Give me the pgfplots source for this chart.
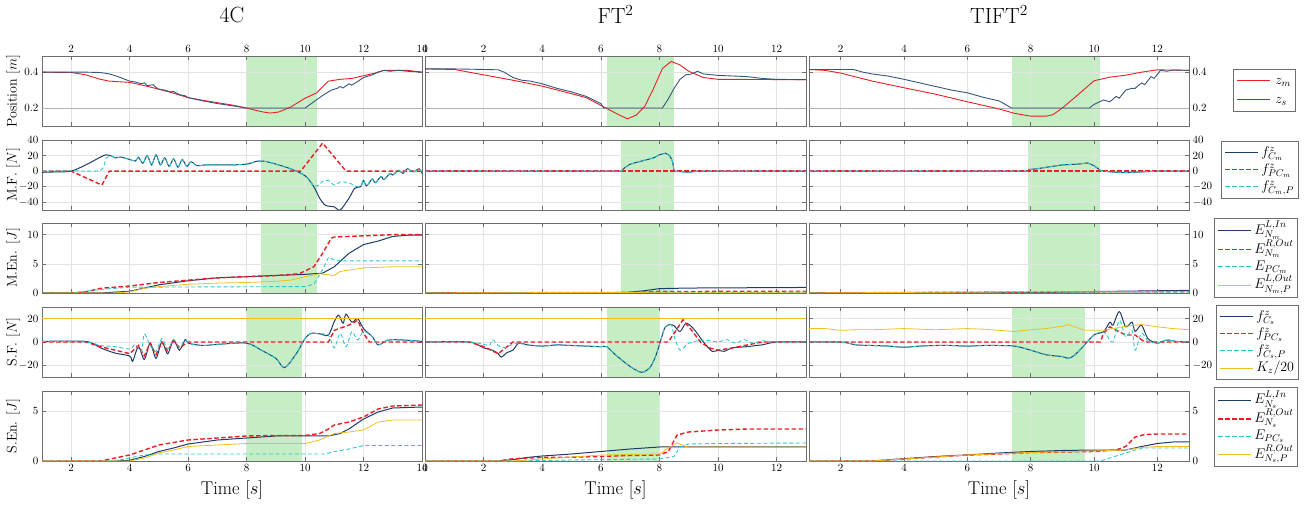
\RequirePackage{fix-cm}
\documentclass[border=0pt]{standalone}
\usepackage{fontspec}
\usepackage{pgfplots}
\pgfplotsset{compat=1.18}
\definecolor{cR}{RGB}{235,30,35}
\definecolor{cB}{RGB}{30,60,105}
\definecolor{cS}{RGB}{55,85,125}
\definecolor{cC}{RGB}{45,200,205}
\definecolor{cY}{RGB}{240,190,30}
\definecolor{cG}{RGB}{198,238,196}
\definecolor{cF}{RGB}{110,110,110}
\tikzset{
 lB/.style={color=cB, line width=1pt, solid},
 lR/.style={color=cR, line width=1.4pt, dash pattern=on 4.5pt off 2.5pt},
 lC/.style={color=cC, line width=0.9pt, dash pattern=on 4pt off 2.5pt},
 lY/.style={color=cY, line width=0.8pt, solid},
 lM/.style={color=cR, line width=0.9pt, solid},
 lS/.style={color=cS, line width=0.9pt, solid},
}
\newcommand{\solidS}[2]{\textcolor{#1}{\rule[0.5ex]{33pt}{#2}}}
\newcommand{\dashS}[2]{\textcolor{#1}{\rule[0.5ex]{4.5pt}{#2}\hspace{2.5pt}\rule[0.5ex]{4.5pt}{#2}\hspace{2.5pt}\rule[0.5ex]{4.5pt}{#2}\hspace{2.5pt}\rule[0.5ex]{4.5pt}{#2}\hspace{2.5pt}\rule[0.5ex]{4.5pt}{#2}}}
\tikzset{legbox/.style={draw=cF, line width=0.5pt, fill=white, anchor=west, inner xsep=4pt, inner ysep=3pt, font=\fontsize{14}{17}\selectfont}}
\pgfplotsset{
 myax/.style={scale only axis, height=70pt, anchor=south west, set layers,
   axis line style={cF, line width=0.6pt}, tick style={cF, line width=0.5pt},
   major tick length=4pt,
   grid=major, grid style={gray!22, line width=0.4pt},
   tick label style={font=\fontsize{11}{13}\selectfont},
   ylabel style={font=\fontsize{14}{16}\selectfont, at={(axis description cs:-0.0763,0.5)}, anchor=center},
   xlabel style={font=\fontsize{18.5}{20}\selectfont, at={(axis description cs:0.5,-0.414)}, anchor=center},
   title style={font=\fontsize{22}{24}\selectfont, at={(axis description cs:0.5,1.5)}, anchor=center},
 },
 c1/.style={width=380pt, xmin=1, xmax=14, xtick={2,4,...,14}},
 c2/.style={width=381pt, xmin=0, xmax=13, xtick={0,2,...,12}, yticklabel=\empty},
 c3/.style={width=380pt, xmin=1, xmax=13, xtick={2,4,...,12}, yticklabel pos=right},
 r1/.style={ymin=0.1, ymax=0.49, ytick={0.2,0.4}, xticklabel pos=upper},
 r2/.style={ymin=-50, ymax=40, ytick={-40,-20,0,20,40}, xticklabel=\empty},
 r3/.style={ymin=0, ymax=12, ytick={0,5,10}, xticklabel=\empty},
 r4/.style={ymin=-30, ymax=30, ytick={-20,0,20}, xticklabel=\empty},
 r5/.style={ymin=0, ymax=7, ytick={0,5}, xlabel={Time [$s$]}},
}
\newcommand{\hl}[4]{\addplot[fill=cG, draw=none, forget plot, on layer=axis background] coordinates {(#1,#3) (#2,#3) (#2,#4) (#1,#4)};}
\newcommand{\refl}[2]{\addplot[gray!60, line width=0.6pt, forget plot] coordinates {(#1,0.2) (#2,0.2)};}
\begin{document}
\begin{tikzpicture}
\path (0,0) rectangle (1310pt,504pt);
% ================= ROW 1 =================
\begin{axis}[myax, c1, r1, at={(42pt,378pt)}, title={4C}, ylabel={Position [$m$]}]
\hl{8}{10.4}{0.1}{0.49}
\refl{1}{14}
\addplot[lM] coordinates {(1,0.40)(2,0.398)(2.5,0.385)(3,0.36)(3.3,0.35)(4,0.343)(4.5,0.325)(5,0.305)(5.5,0.283)(6,0.258)(6.5,0.243)(7,0.23)(7.5,0.217)(8,0.20)(8.5,0.18)(8.8,0.172)(9.1,0.178)(9.5,0.205)(10,0.255)(10.4,0.285)(10.8,0.35)(11.2,0.36)(11.6,0.365)(12,0.38)(12.4,0.395)(12.7,0.41)(13,0.41)(13.5,0.41)(14,0.40)};
\addplot[lS] coordinates {(1,0.40)(2,0.40)(2.5,0.40)(3,0.398)(3.3,0.39)(3.6,0.375)(4,0.35)(4.2,0.345)(4.4,0.335)(4.5,0.34)(4.6,0.325)(4.8,0.33)(4.9,0.315)(5,0.305)(5.2,0.30)(5.4,0.29)(5.5,0.292)(5.7,0.275)(5.9,0.268)(6,0.258)(6.5,0.24)(7,0.225)(7.5,0.213)(8,0.20)(10,0.20)(10.3,0.235)(10.6,0.27)(10.9,0.30)(11.1,0.31)(11.2,0.32)(11.3,0.312)(11.5,0.335)(11.6,0.328)(11.8,0.348)(12,0.37)(12.3,0.385)(12.5,0.40)(12.7,0.41)(12.9,0.405)(13.2,0.41)(13.5,0.405)(14,0.40)};
\end{axis}
\begin{axis}[myax, c2, r1, at={(425pt,378pt)}, title={FT$^2$}]
\hl{6.2}{8.5}{0.1}{0.49}
\refl{0}{13}
\addplot[lM] coordinates {(0,0.418)(1,0.415)(1.5,0.40)(2,0.385)(3,0.355)(4,0.322)(5,0.28)(5.5,0.258)(6,0.215)(6.5,0.172)(6.9,0.14)(7.2,0.16)(7.5,0.21)(7.8,0.31)(8.1,0.42)(8.4,0.46)(8.7,0.44)(9,0.405)(9.5,0.37)(10,0.36)(13,0.358)};
\addplot[lS] coordinates {(0,0.418)(1,0.418)(2,0.415)(2.5,0.413)(2.7,0.40)(3,0.37)(3.3,0.355)(3.6,0.35)(4,0.335)(4.5,0.31)(5,0.29)(5.5,0.265)(6,0.225)(6.1,0.20)(8.1,0.20)(8.3,0.25)(8.5,0.31)(8.7,0.36)(8.9,0.385)(9.1,0.39)(9.3,0.405)(9.5,0.39)(10,0.382)(11,0.375)(11.5,0.365)(12,0.36)(13,0.358)};
\end{axis}
\begin{axis}[myax, c3, r1, at={(809pt,378pt)}, title={TIFT$^2$}]
\hl{7.4}{10.2}{0.1}{0.49}
\refl{1}{13}
\addplot[lM] coordinates {(1,0.415)(1.5,0.41)(2,0.395)(3,0.35)(4,0.313)(5,0.277)(6,0.235)(7,0.195)(7.5,0.17)(8,0.155)(8.5,0.155)(8.7,0.163)(9,0.20)(9.5,0.275)(10,0.352)(10.5,0.372)(11,0.383)(11.5,0.40)(12,0.413)(13,0.41)};
\addplot[lS] coordinates {(1,0.415)(2.4,0.415)(2.7,0.40)(3,0.39)(3.5,0.378)(4,0.36)(4.5,0.34)(5,0.32)(5.5,0.3)(6,0.285)(6.5,0.26)(7,0.24)(7.4,0.20)(9.85,0.20)(10,0.22)(10.3,0.245)(10.5,0.235)(10.7,0.265)(10.8,0.255)(11,0.30)(11.2,0.31)(11.3,0.31)(11.5,0.34)(11.6,0.33)(11.8,0.375)(11.9,0.365)(12.1,0.41)(12.3,0.405)(12.5,0.412)(13,0.41)};
\end{axis}
% ================= ROW 2 =================
\begin{axis}[myax, c1, r2, at={(42pt,294pt)}, ylabel={M.F. [$N$]}]
\hl{8.5}{10.4}{-50}{40}
\addplot[lB, smooth, tension=0.5] coordinates {(1,-1.5)(1.5,-1)(2,0)(2.5,8)(3,18)(3.2,21)(3.4,19)(3.5,17)(3.7,18)(4,15)(4.2,13)(4.3,18)(4.45,10)(4.6,20)(4.75,8)(4.9,21)(5.05,8)(5.2,17)(5.35,6)(5.5,16)(5.65,5)(5.8,15)(5.95,6)(6.1,12)(6.3,7)(6.6,8)(7,8)(7.5,8)(8,9)(8.4,13)(8.7,12)(9,9)(9.5,3)(10,-6)(10.3,-20)(10.5,-35)(10.7,-44)(11,-46)(11.2,-50)(11.5,-35)(11.7,-22)(11.9,-20)(12.0,-12)(12.1,-19)(12.3,-10)(12.4,-15)(12.6,-7)(12.7,-11)(12.9,-3)(13,-5)(13.2,1)(13.35,-3)(13.5,3)(13.7,-1)(13.9,3)(14,-3)};
\addplot[lR] coordinates {(1,0)(2,0)(3.05,-18)(3.3,0)(9.85,0)(10.6,36)(11.4,0)(14,0)};
\addplot[lC, smooth, tension=0.5] coordinates {(1,0)(2,0.5)(3,1)(3.2,17)(3.4,19)(3.5,17)(3.7,18)(4,15)(4.2,13)(4.3,18)(4.45,10)(4.6,20)(4.75,8)(4.9,21)(5.05,8)(5.2,17)(5.35,6)(5.5,16)(5.65,5)(5.8,15)(5.95,6)(6.1,12)(6.3,7)(6.6,8)(7,8)(7.5,8)(8,9)(8.4,13)(8.7,12)(9,9)(9.5,3)(10,-6)(10.3,-19)(10.5,-17)(10.6,-13)(10.8,-12)(11,-18)(11.2,-14)(11.5,-15)(11.7,-19)(11.9,-20)(12.0,-12)(12.1,-19)(12.3,-10)(12.4,-15)(12.6,-7)(12.7,-11)(12.9,-3)(13,-5)(13.2,1)(13.35,-3)(13.5,3)(13.7,-1)(13.9,3)(14,-3)};
\end{axis}
\begin{axis}[myax, c2, r2, at={(425pt,294pt)}]
\hl{6.7}{8.5}{-50}{40}
\addplot[lB] coordinates {(0,0)(6.7,0)(6.8,4)(7,9)(7.5,14)(7.8,17)(8,21)(8.2,23)(8.35,20)(8.45,12)(8.5,0)(9,-1.5)(9.3,0)(13,0)};
\addplot[lR] coordinates {(0,0)(13,0)};
\addplot[lC] coordinates {(0,0)(6.7,0)(6.8,4)(7,9)(7.5,14)(7.8,17)(8,21)(8.2,23)(8.35,20)(8.45,12)(8.5,0)(9,-1.5)(9.3,0)(13,0)};
\end{axis}
\begin{axis}[myax, c3, r2, at={(809pt,294pt)}]
\hl{7.9}{10.2}{-50}{40}
\addplot[lB] coordinates {(1,0)(7.9,0)(7.95,2)(8.2,3)(8.5,5)(9,8)(9.5,9)(9.8,10.5)(10,7)(10.2,1)(10.5,-1)(11,-2)(11.5,-1)(12,0)(13,0)};
\addplot[lR] coordinates {(1,0)(13,0)};
\addplot[lC] coordinates {(1,0)(7.9,0)(7.95,2)(8.2,3)(8.5,5)(9,8)(9.5,9)(9.8,10.5)(10,7)(10.2,1)(10.5,-1)(11,-2)(11.5,-1)(12,0)(13,0)};
\end{axis}
% ================= ROW 3 =================
\begin{axis}[myax, c1, r3, at={(42pt,211pt)}, ylabel={M.En. [$J$]}]
\hl{8.5}{10.4}{0}{12}
\addplot[lB] coordinates {(1,0)(3,0)(4,0.3)(5,1.4)(6,2.1)(7,2.6)(8,2.8)(9,3.0)(10,3.2)(10.6,3.4)(11,4.5)(11.5,6.8)(12,8.3)(12.5,8.9)(13,9.7)(13.5,9.9)(14,9.9)};
\addplot[lR] coordinates {(1,0)(2,0)(2.5,0.2)(3,0.8)(4,1.2)(5,1.8)(6,2.2)(7,2.6)(8,2.8)(9,3.0)(9.8,3.3)(10.3,4.5)(10.6,6.8)(10.9,9.4)(11,9.6)(12,9.8)(13,10)(14,10)};
\addplot[lC] coordinates {(1,0)(2,0)(3,0.6)(4,1.0)(10,1.1)(10.3,1.5)(10.6,4)(10.8,6.1)(11,5.7)(11.3,5.5)(14,5.5)};
\addplot[lY] coordinates {(1,0)(3.5,0)(4,0.2)(4.5,0.8)(5,1.1)(6,1.5)(7,1.7)(8,1.8)(9,2.0)(9.5,2.2)(10,2.8)(10.5,3.3)(11,3.0)(11.2,3.7)(12,4.3)(13,4.5)(14,4.5)};
\end{axis}
\begin{axis}[myax, c2, r3, at={(425pt,211pt)}]
\hl{6.7}{8.5}{0}{12}
\addplot[lB] coordinates {(0,0)(6.7,0)(7.5,0.4)(8,0.75)(8.5,0.8)(9,0.85)(13,0.95)};
\addplot[lR] coordinates {(0,0)(7,0.1)(8,0.25)(13,0.3)};
\addplot[lC] coordinates {(0,0)(13,0.1)};
\addplot[lY] coordinates {(0,0)(6,0.1)(13,0.15)};
\end{axis}
\begin{axis}[myax, c3, r3, at={(809pt,211pt)}]
\hl{7.9}{10.2}{0}{12}
\addplot[lB] coordinates {(1,0)(8,0.05)(10,0.25)(13,0.45)};
\addplot[lR] coordinates {(1,0)(7,0.15)(13,0.25)};
\addplot[lC] coordinates {(1,0)(13,0.05)};
\addplot[lY] coordinates {(1,0)(7,0.2)(13,0.2)};
\end{axis}
% ================= ROW 4 =================
\begin{axis}[myax, c1, r4, at={(42pt,127pt)}, ylabel={S.F. [$N$]}]
\hl{8}{9.9}{-30}{30}
\addplot[lB, smooth, tension=0.5] coordinates {(1,0.5)(2.5,0.5)(3,-5)(3.5,-9.5)(4,-12)(4.1,-16.5)(4.3,-4)(4.5,-15)(4.7,-1)(4.9,-14)(5.1,0)(5.3,-10)(5.5,2)(5.7,-7)(5.9,2)(6,-1)(6.5,-3)(7,-2)(8,-1)(8.5,-7)(9,-14)(9.3,-22)(9.7,-10)(10,3)(10.2,7.4)(10.5,7)(10.8,6)(11,17.6)(11.15,23)(11.3,16)(11.4,24)(11.6,17)(11.8,20)(12,11.5)(12.3,4.5)(12.5,-2.5)(12.8,1.5)(13,2)(13.5,1.5)(14,0.5)};
\addplot[lR] coordinates {(1,0)(2.5,0)(3,-4)(3.5,-7)(4,-10)(4.3,-3)(4.5,-12)(4.7,-1)(4.9,-11)(5.1,0)(5.3,-8)(5.5,1)(5.7,-5)(6,0)(10.8,0)(11,10)(11.5,14.5)(11.8,18.5)(12,7.4)(12.2,0)(14,0)};
\addplot[lC, smooth, tension=0.5] coordinates {(1,0.5)(2.5,0)(3,-3)(3.5,-4)(4,-6)(4.2,-2)(4.4,-8)(4.5,7)(4.7,-3)(4.9,-8)(5.1,3)(5.3,-6)(5.5,2)(5.7,-4)(5.9,2)(6,-1)(6.5,-3)(7,-2)(8,-1)(8.5,-7)(9,-14)(9.3,-22)(9.7,-10)(10,3)(10.2,7.4)(10.5,7)(10.8,6)(11,-5)(11.2,7.4)(11.4,-4)(11.6,8.8)(11.8,1.7)(12,9)(12.3,4.5)(12.5,-2.5)(12.8,1.5)(13,2)(13.5,1.5)(14,0.5)};
\addplot[lY] coordinates {(1,20)(14,20)};
\end{axis}
\begin{axis}[myax, c2, r4, at={(425pt,127pt)}]
\hl{6.2}{8.0}{-30}{30}
\addplot[lB, smooth, tension=0.5] coordinates {(0,0)(1.5,0)(2,-5)(2.3,-7)(2.5,-10)(2.6,-13)(2.8,-9)(3,-7)(3.2,-1)(3.5,-2.5)(4,-3.5)(4.5,-2.5)(5,-3)(5.5,-3.5)(6,-4)(6.2,-4)(6.5,-11)(7,-21)(7.4,-26)(7.7,-21)(7.9,-10)(8.05,2)(8.2,13)(8.4,15)(8.5,14)(8.7,9)(8.9,16)(9.1,13)(9.3,7)(9.5,0)(9.8,-8)(10,-7)(10.2,-8)(10.5,-5)(11,-4)(11.3,-3)(11.5,-2.5)(12,0)(13,0)};
\addplot[lR] coordinates {(0,0)(1.5,0)(2,-4)(2.5,-10)(3,0)(8.3,0)(8.5,7.4)(8.8,19)(9.1,10)(9.4,0)(9.7,-5)(10,-7)(10.5,-5)(11,-2.5)(11.5,0)(13,0)};
\addplot[lC, smooth, tension=0.5] coordinates {(0,0)(1.5,0)(2,-2)(2.2,-3)(2.3,2)(2.5,-3)(2.7,-5)(3,-2)(3.2,-1)(3.5,-2.5)(4,-3.5)(4.5,-2.5)(5,-3)(5.5,-3.5)(6,-4)(6.2,-4)(6.5,-11)(7,-21)(7.4,-26)(7.7,-21)(7.9,-10)(8.05,2)(8.2,13)(8.4,15)(8.5,5)(8.7,-7)(9,-1)(9.5,1.7)(10,0)(10.3,2)(10.6,-1)(10.9,2)(11.2,-1)(11.5,1)(12,0)(13,0)};
\addplot[lY] coordinates {(0,20)(13,20)};
\end{axis}
\begin{axis}[myax, c3, r4, at={(809pt,127pt)}]
\hl{7.4}{9.7}{-30}{30}
\addplot[lB, smooth, tension=0.5] coordinates {(1,0)(2,0)(2.5,-2.5)(3,-3)(3.5,-3.5)(4,-4.5)(4.5,-3.5)(5,-3)(5.5,-3)(6,-3.5)(6.5,-3)(7,-3)(7.5,-3.5)(8,-7)(8.5,-11)(9,-12.5)(9.2,-14)(9.4,-11)(9.6,-5.5)(10,6)(10.3,8.8)(10.5,17)(10.6,14.5)(10.8,26)(11,13)(11.2,17)(11.3,9)(11.5,14.5)(11.7,3)(12,-1)(12.3,1.7)(12.6,0.5)(13,0)};
\addplot[lR] coordinates {(1,0)(10.2,0)(10.3,7.4)(10.5,13)(10.7,10)(11,6)(11.3,6)(11.6,0)(13,0)};
\addplot[lC, smooth, tension=0.5] coordinates {(1,0)(2,0)(2.5,-2.5)(3,-3)(3.5,-3.5)(4,-4.5)(4.5,-3.5)(5,-3)(5.5,-3)(6,-3.5)(6.5,-3)(7,-3)(7.5,-3.5)(8,-7)(8.5,-11)(9,-12.5)(9.2,-14)(9.4,-11)(9.6,-5.5)(10,6)(10.3,8.8)(10.4,6)(10.6,0)(10.8,18.5)(11,4.5)(11.2,10)(11.3,-7)(11.5,7.4)(11.7,1)(12,-1)(12.3,1.7)(12.6,0.5)(13,0)};
\addplot[lY] coordinates {(1,11.5)(1.5,11.5)(2,10)(2.5,10.5)(3,10.5)(3.5,11)(4,11.5)(4.5,11)(5,10.5)(5.5,11)(6,11.5)(6.5,11)(7,10)(7.5,9)(8,10.5)(8.5,11.5)(9,13.5)(9.2,15)(9.5,12)(9.7,10)(10.3,10)(11,13.5)(11.5,15)(12,13)(12.5,11.5)(13,10.5)};
\end{axis}
% ================= ROW 5 =================
\begin{axis}[myax, c1, r5, at={(42pt,43pt)}, ylabel={S.En. [$J$]}]
\hl{8}{9.9}{0}{7}
\addplot[lB] coordinates {(1,0)(3.5,0)(4,0.07)(4.5,0.45)(5,0.95)(5.5,1.3)(6,1.7)(7,2.1)(8,2.3)(9,2.5)(10.8,2.5)(11.2,2.75)(11.5,3.2)(12,4.2)(12.5,4.9)(13,5.3)(14,5.4)};
\addplot[lR] coordinates {(1,0)(3,0)(3.5,0.3)(4,0.6)(4.5,1.1)(5,1.6)(6,2.1)(7,2.3)(8,2.5)(9,2.55)(10,2.55)(10.5,2.75)(10.8,3.2)(11,3.6)(11.5,3.9)(12,4.4)(12.5,5.2)(13,5.5)(14,5.6)};
\addplot[lC] coordinates {(1,0)(3.5,0)(4,0.3)(4.5,0.6)(5,0.7)(10.7,0.7)(11,0.95)(11.5,1.2)(12,1.55)(14,1.55)};
\addplot[lY] coordinates {(1,0)(4,0)(4.5,0.3)(5,0.8)(5.5,1.1)(6,1.45)(7,1.6)(8,1.75)(10,1.75)(10.5,2.1)(11,2.75)(11.5,2.9)(12,3.1)(12.5,3.9)(13,4.1)(14,4.1)};
\end{axis}
\begin{axis}[myax, c2, r5, at={(425pt,43pt)}]
\hl{6.2}{8.0}{0}{7}
\addplot[lB] coordinates {(0,0)(2.5,0)(3,0.13)(3.5,0.36)(4,0.5)(5,0.7)(6,0.95)(7,1.2)(8,1.4)(13,1.4)};
\addplot[lR] coordinates {(0,0)(2.5,0)(3,0.23)(4,0.36)(5,0.38)(6,0.45)(7,0.55)(8,0.6)(8.3,0.95)(8.6,2.6)(9,2.9)(10,3.1)(11,3.2)(13,3.2)};
\addplot[lC] coordinates {(0,0)(3,0)(5,0.1)(8,0.2)(8.5,0.45)(8.7,1.4)(9,1.7)(10,1.75)(13,1.8)};
\addplot[lY] coordinates {(0,0)(3,0)(4,0.2)(6,0.6)(8,0.7)(8.3,1.3)(8.6,1.8)(8.9,1.45)(9,1.4)(13,1.4)};
\end{axis}
\begin{axis}[myax, c3, r5, at={(809pt,43pt)}]
\hl{7.4}{9.7}{0}{7}
\addplot[lB] coordinates {(1,0)(3,0)(4,0.23)(5,0.45)(6,0.6)(7,0.8)(8,0.95)(9,1.05)(10,1.1)(11,1.1)(11.5,1.45)(12,1.75)(12.5,1.9)(13,1.9)};
\addplot[lR] coordinates {(1,0)(3,0)(4,0.2)(5,0.4)(6,0.6)(7,0.7)(8,0.85)(9,0.9)(10,0.95)(10.7,1.1)(11,1.45)(11.3,2.4)(11.6,2.65)(12,2.7)(13,2.7)};
\addplot[lC] coordinates {(1,0)(10.2,0)(10.5,0.3)(11,0.8)(11.3,1.1)(11.6,1.3)(13,1.3)};
\addplot[lY] coordinates {(1,0)(3,0)(4,0.2)(6,0.6)(8,0.85)(10,1.0)(11,1.1)(11.5,1.35)(12,1.45)(13,1.45)};
\end{axis}
% ================= LEGENDS =================
\renewcommand{\arraystretch}{1.0}
\node[legbox] at (1233pt,413.5pt) {\begin{tabular}{@{}l@{\hspace{5pt}}l@{}}\solidS{cR}{0.9pt} & $z_m$\\[2pt] \solidS{cS}{0.9pt} & $z_s$\end{tabular}};
\node[legbox] at (1221pt,334pt) {\begin{tabular}{@{}l@{\hspace{3pt}}l@{}}\solidS{cB}{1pt} & $f^z_{C_m}$\\ \dashS{cR}{1.3pt} & $f^z_{PC_m}$\\ \dashS{cC}{0.9pt} & $f^z_{C_m,P}$\end{tabular}};
\node[legbox] at (1214pt,246.5pt) {\begin{tabular}{@{}l@{\hspace{3pt}}l@{}}\solidS{cB}{1pt} & $E^{L,In}_{N_m}$\\ \dashS{cR}{1.3pt} & $E^{R,Out}_{N_m}$\\ \dashS{cC}{0.9pt} & $E_{PC_m}$\\ \solidS{cY}{0.9pt} & $E^{L,Out}_{N_m,P}$\end{tabular}};
\node[legbox] at (1216pt,161.5pt) {\begin{tabular}{@{}l@{\hspace{3pt}}l@{}}\solidS{cB}{1pt} & $f^z_{C_s}$\\ \dashS{cR}{1.3pt} & $f^z_{PC_s}$\\ \dashS{cC}{0.9pt} & $f^z_{C_s,P}$\\ \solidS{cY}{0.9pt} & $K_z/20$\end{tabular}};
\node[legbox] at (1214pt,77pt) {\begin{tabular}{@{}l@{\hspace{3pt}}l@{}}\solidS{cB}{1pt} & $E^{L,In}_{N_s}$\\ \dashS{cR}{1.3pt} & $E^{R,Out}_{N_s}$\\ \dashS{cC}{0.9pt} & $E_{PC_s}$\\ \solidS{cY}{0.9pt} & $E^{R,Out}_{N_s,P}$\end{tabular}};
\end{tikzpicture}
\end{document}
